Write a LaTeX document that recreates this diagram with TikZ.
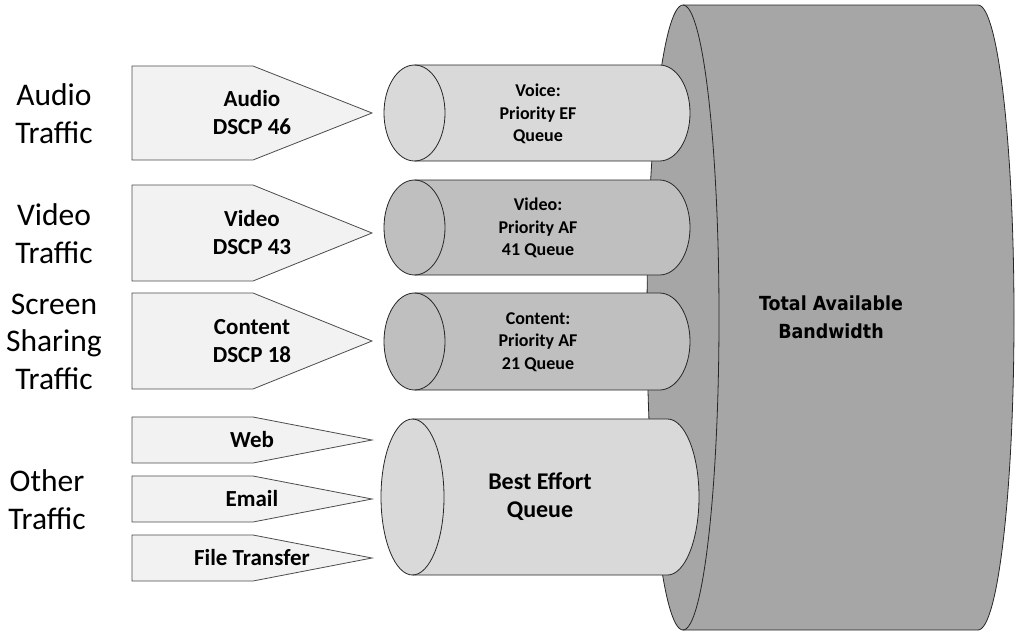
\documentclass[tikz,border=0pt]{standalone}
\usepackage{fontspec}
\setmainfont{Carlito}
\newfontfamily\bwfont{DejaVu Sans}[FakeStretch=0.9]
\definecolor{tagfill}{RGB}{242,242,242}
\definecolor{lightq}{RGB}{217,217,217}
\definecolor{darkq}{RGB}{191,191,191}
\definecolor{bigq}{RGB}{166,166,166}

\begin{document}
\begin{tikzpicture}[x=1pt,y=-1pt,
    tag/.style={draw=black!70,fill=tagfill,line width=0.8pt},
    pipe/.style={draw=black!85,line width=0.8pt},
    side/.style={align=center,font=\fontsize{31.5}{37.5}\selectfont},
    tagtext/.style={align=center,font=\fontsize{23}{28}\selectfont\bfseries},
    pipetext/.style={align=center,font=\fontsize{18}{22.5}\selectfont\bfseries}]
		\useasboundingbox (0,0) rectangle (1020,635);
		% total bandwidth
		\draw[pipe,fill=bigq] (683,5)--(978,5) arc (-90:90:36 and 312.5)--(683,630) arc (90:270:36 and 312.5)--cycle;
		\draw[pipe] (683,5) arc (-90:90:36 and 312.5);
		\node[at={(831,317.5)},align=center,font=\fontsize{19.4}{28}\selectfont\bwfont\bfseries] (total) {Total Available\\Bandwidth};
		% queues
		\draw[pipe,fill=lightq] (414.5,65)--(659.5,65) arc (-90:90:30.5 and 48)--(414.5,161) arc (90:270:30.5 and 48)--cycle;
		\draw[pipe] (414.5,65) arc (-90:90:30.5 and 48);
		\draw[pipe,fill=darkq] (414.5,180)--(659.5,180) arc (-90:90:30.5 and 47.5)--(414.5,275) arc (90:270:30.5 and 47.5)--cycle;
		\draw[pipe] (414.5,180) arc (-90:90:30.5 and 47.5);
		\draw[pipe,fill=darkq] (414.5,293)--(659.5,293) arc (-90:90:30.5 and 48.5)--(414.5,390) arc (90:270:30.5 and 48.5)--cycle;
		\draw[pipe] (414.5,293) arc (-90:90:30.5 and 48.5);
		\draw[pipe,fill=lightq] (412.5,419)--(667.5,419) arc (-90:90:31.5 and 78)--(412.5,575) arc (90:270:31.5 and 78)--cycle;
		\draw[pipe] (412.5,419) arc (-90:90:31.5 and 78);
		\node[at={(538,114)},pipetext] (voiceq) {Voice:\\Priority EF\\Queue};
		\node[at={(538,228)},pipetext] (videoq) {Video:\\Priority AF\\41 Queue};
		\node[at={(538,342)},pipetext] (contentq) {Content:\\Priority AF\\21 Queue};
		\node[at={(540,497)},align=center,font=\fontsize{24}{28}\selectfont\bfseries] (bestq) {Best Effort\\Queue};
		% markings
		\draw[tag] (132,66)--(253,66)--(372,113)--(253,160)--(132,160)--cycle;
		\draw[tag] (132,185)--(253,185)--(372,233)--(253,281)--(132,281)--cycle;
		\draw[tag] (132,293)--(253,293)--(372,341)--(253,389)--(132,389)--cycle;
		\draw[tag] (132,417)--(253,417)--(372,440)--(253,463)--(132,463)--cycle;
		\draw[tag] (132,476)--(253,476)--(372,499)--(253,522)--(132,522)--cycle;
		\draw[tag] (132,535)--(253,535)--(372,558)--(253,581)--(132,581)--cycle;
		\node[at={(252,113)},tagtext] (audio) {Audio\\DSCP 46};
		\node[at={(252,233)},tagtext] (video) {Video\\DSCP 43};
		\node[at={(252,341)},tagtext] (content) {Content\\DSCP 18};
		\node[at={(252,440)},tagtext] (web) {Web};
		\node[at={(252,499)},tagtext] (email) {Email};
		\node[at={(252,558)},tagtext] (file) {File Transfer};
		% traffic types
		\node[at={(54,113.5)},side] (audiot) {Audio\\Traffic};
		\node[at={(54,233.5)},side] (videot) {Video\\Traffic};
		\node[at={(54,341.5)},side] (screent) {Screen\\Sharing\\Traffic};
		\node[at={(47,499.5)},side] (othert) {Other\\Traffic};
\end{tikzpicture}
\end{document}
